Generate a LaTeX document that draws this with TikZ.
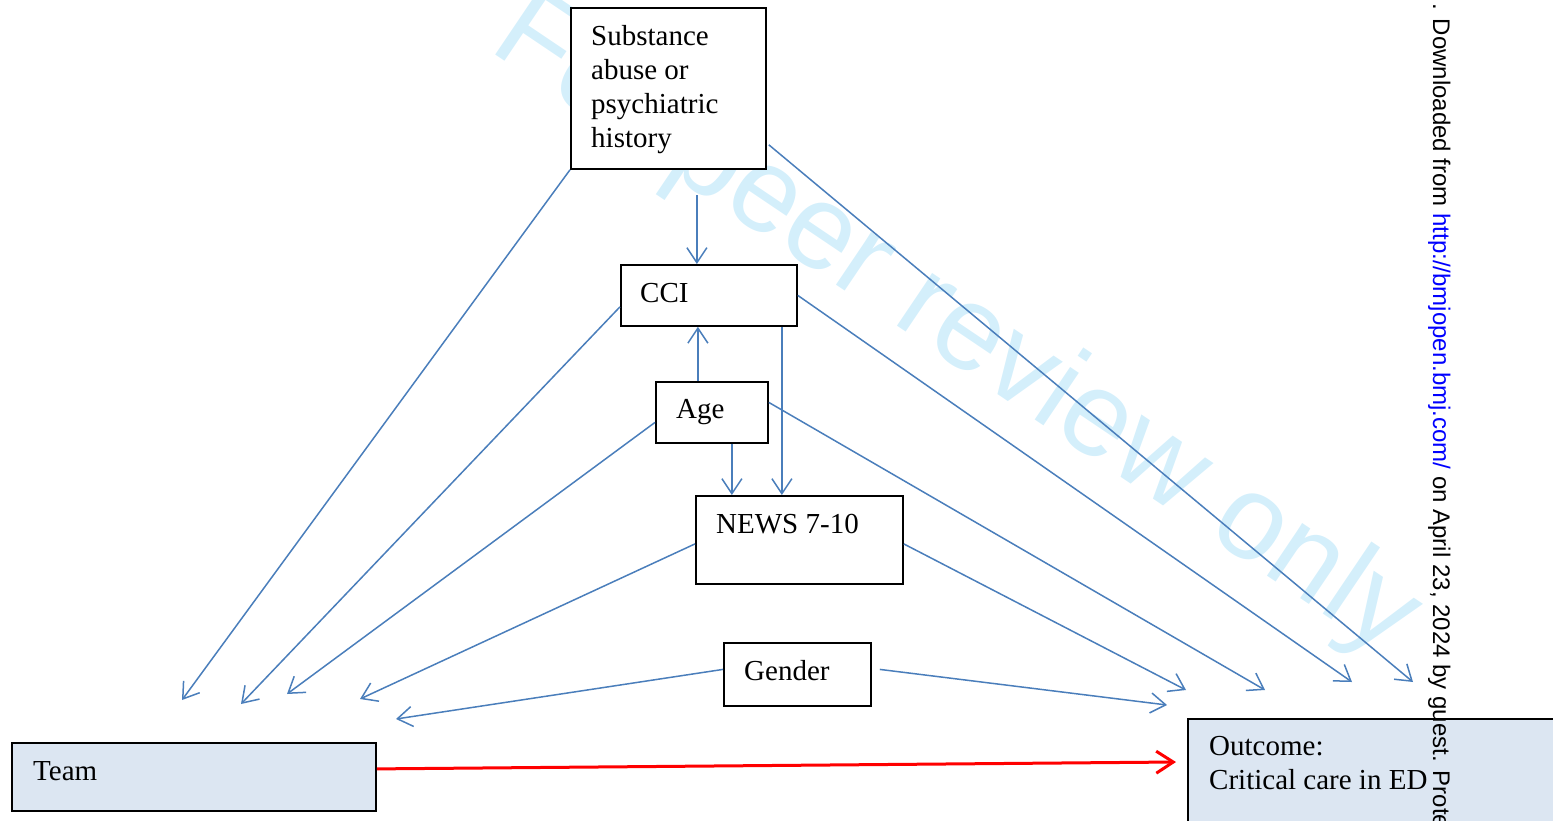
\documentclass[tikz,border=0pt]{standalone}
\usepackage{fontspec}
\setmainfont{Liberation Serif}
\newfontfamily\wmfont{Liberation Sans}
\usetikzlibrary{arrows.meta}

\definecolor{linkblue}{RGB}{74,126,187}
\definecolor{boxfill}{RGB}{220,230,242}
\definecolor{wmcyan}{RGB}{212,239,251}
\definecolor{urlblue}{RGB}{0,0,255}
\definecolor{causalred}{RGB}{255,0,0}

\tikzset{
  box/.style={draw=black, line width=1.8pt, fill=white, rectangle,
    inner sep=0pt, anchor=north west},
  shadedbox/.style={box, fill=boxfill},
  boxtext/.style={anchor=base west, inner sep=0pt, align=left,
    font=\fontsize{29}{34}\selectfont},
  link/.style={draw=linkblue, line width=1.5pt,
    -{Straight Barb[length=15pt,width=20pt]}},
  causal/.style={draw=causalred, line width=3pt,
    -{Straight Barb[length=17pt,width=22pt]}},
  watermark/.style={inner sep=0pt, text=wmcyan, rotate=-34,
    font=\wmfont\fontsize{120}{120}\selectfont},
  margintext/.style={inner sep=0pt, anchor=base west, rotate=-90,
    font=\wmfont\fontsize{24}{24}\selectfont},
}

\begin{document}
\begin{tikzpicture}[x=1pt, y=-1pt]
  \clip (0,0) rectangle (1553,820);
  \useasboundingbox (0,0) rectangle (1553,820);

  % background watermark
  \node[watermark] (wm) at (955,328) {For peer review only};

  % boxes
  \node[box, minimum width=195pt, minimum height=161pt] (sub) at (570,7) {};
  \node[box, minimum width=176pt, minimum height=61pt] (cci) at (620,264) {};
  \node[box, minimum width=112pt, minimum height=61pt] (age) at (655,381) {};
  \node[box, minimum width=207pt, minimum height=88pt] (news) at (695,495) {};
  \node[box, minimum width=147pt, minimum height=63pt] (gender) at (723,642) {};
  \node[shadedbox, minimum width=364pt, minimum height=68pt] (team) at (11,742) {};
  \node[shadedbox, minimum width=400pt, minimum height=140pt] (out) at (1187,718) {};

  % box texts (multi-line texts sit on the baseline of their last line)
  \node[boxtext] (subT) at (591,147) {Substance\\abuse or\\psychiatric\\history};
  \node[boxtext] (cciT) at (640,302) {CCI};
  \node[boxtext] (ageT) at (676,418) {Age};
  \node[boxtext] (newsT) at (716,533) {NEWS 7-10};
  \node[boxtext] (genderT) at (744,680) {Gender};
  \node[boxtext] (teamT) at (33,780) {Team};
  \node[boxtext] (outT) at (1209,789) {Outcome:\\Critical care in ED};

  % free arrow ends
  \coordinate (tL1) at (182,700);
  \coordinate (tL2) at (241,704);
  \coordinate (tL3) at (287,694);
  \coordinate (tL4) at (360,699);
  \coordinate (tL5) at (396,719);
  \coordinate (oR1) at (1167,705);
  \coordinate (oR2) at (1186,690);
  \coordinate (oR3) at (1265,690);
  \coordinate (oR4) at (1352,682);
  \coordinate (oR5) at (1413,682);
  \coordinate (oRed) at (1176,762);

  % arrows between confounders
  \draw[link] ([xshift=-12pt,yshift=69pt]cci.north) -- ([xshift=-12pt]cci.north);
  \draw[link] ([xshift=-14pt]age.north) -- ([xshift=-14pt]age.north |- cci.south);
  \draw[link] ([xshift=73pt]cci.south) -- ([xshift=73pt]cci.south |- news.north);
  \draw[link] ([xshift=20pt]age.south) -- ([xshift=20pt]age.south |- news.north);

  % arrows towards team
  \draw[link] (sub.south west) -- (tL1);
  \draw[link] ([yshift=20pt]cci.south west) -- (tL2);
  \draw[link] ([yshift=-10pt]age.west) -- (tL3);
  \draw[link] ([yshift=-4pt]news.west) -- (tL4);
  \draw[link] ([yshift=5pt]gender.west) -- (tL5);

  % arrows towards outcome
  \draw[link] ([xshift=8pt,yshift=5pt]gender.east) -- (oR1);
  \draw[link] ([yshift=-4pt]news.east) -- (oR2);
  \draw[link] ([yshift=10pt]age.east) -- (oR3);
  \draw[link] (cci.east) -- (oR4);
  \draw[link] ([xshift=2pt,yshift=25pt]sub.south east) -- (oR5);

  % exposure to outcome
  \draw[causal] ([yshift=8pt]team.east) -- (oRed);

  % margin note
  \node[margintext] (note) at (1433,3)
    {. Downloaded from \textcolor{urlblue}{http://bmjopen.bmj.com/} on April 23, 2024 by guest. Prote};
\end{tikzpicture}
\end{document}
